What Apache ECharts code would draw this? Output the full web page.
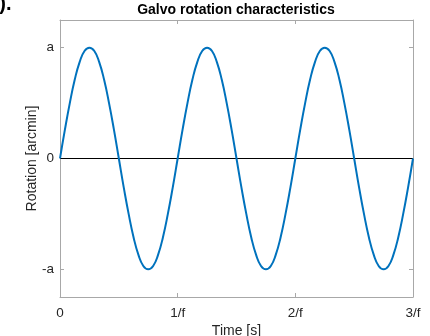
<!DOCTYPE html>
<html>
<head>
<meta charset="utf-8">
<script src="https://cdn.jsdelivr.net/npm/echarts@6/dist/echarts.min.js"></script>
<style>html,body{margin:0;padding:0;background:#fff;}#c{width:430px;height:336px;}</style>
</head>
<body>
<div id="c"></div>
<script>
var titleText = 'Galvo rotation characteristics';
var xName = 'Time [s]';
var yName = 'Rotation [arcmin]';
var xTickValues = [0, 1, 2, 3];
var xTickLabels = ['0', '1/f', '2/f', '3/f'];
var yTickValues = [-1, 0, 1];
var yTickLabels = ['-a', '0', 'a'];
var time = [0, 0.0417, 0.0833, 0.125, 0.1667, 0.2083, 0.25, 0.2917, 0.3333, 0.375, 0.4167, 0.4583,
            0.5, 0.5417, 0.5833, 0.625, 0.6667, 0.7083, 0.75, 0.7917, 0.8333, 0.875, 0.9167, 0.9583,
            1, 1.0417, 1.0833, 1.125, 1.1667, 1.2083, 1.25, 1.2917, 1.3333, 1.375, 1.4167, 1.4583,
            1.5, 1.5417, 1.5833, 1.625, 1.6667, 1.7083, 1.75, 1.7917, 1.8333, 1.875, 1.9167, 1.9583,
            2, 2.0417, 2.0833, 2.125, 2.1667, 2.2083, 2.25, 2.2917, 2.3333, 2.375, 2.4167, 2.4583,
            2.5, 2.5417, 2.5833, 2.625, 2.6667, 2.7083, 2.75, 2.7917, 2.8333, 2.875, 2.9167, 2.9583, 3];
var rotation = [0, 0.26, 0.5, 0.71, 0.87, 0.97, 1, 0.97, 0.87, 0.71, 0.5, 0.26,
                0, -0.26, -0.5, -0.71, -0.87, -0.97, -1, -0.97, -0.87, -0.71, -0.5, -0.26,
                0, 0.26, 0.5, 0.71, 0.87, 0.97, 1, 0.97, 0.87, 0.71, 0.5, 0.26,
                0, -0.26, -0.5, -0.71, -0.87, -0.97, -1, -0.97, -0.87, -0.71, -0.5, -0.26,
                0, 0.26, 0.5, 0.71, 0.87, 0.97, 1, 0.97, 0.87, 0.71, 0.5, 0.26,
                0, -0.26, -0.5, -0.71, -0.87, -0.97, -1, -0.97, -0.87, -0.71, -0.5, -0.26, 0];
var zeroLineX = [0, 3];
var zeroLineY = [0, 0];

var chart = echarts.init(document.getElementById('c'), null, {renderer: 'canvas'});
var font = 'Liberation Sans, Arial, Helvetica, sans-serif';
var boxColor = '#a8a8a8';
var textColor = '#262626';
function lab(values, labels) {
  return function (v) {
    for (var i = 0; i < values.length; i++) if (Math.abs(values[i] - v) < 1e-6) return labels[i];
    return '';
  };
}
function axisBase(min, max, ticks) {
  return {
    type: 'value', min: min, max: max,
    axisLine: {show: true, onZero: false, lineStyle: {color: boxColor, width: 1}},
    axisTick: {show: true, inside: true, length: 4, customValues: ticks, lineStyle: {color: boxColor}},
    splitLine: {show: false}
  };
}
var xMain = axisBase(0, 3, xTickValues);
xMain.position = 'bottom';
xMain.name = xName; xMain.nameLocation = 'middle'; xMain.nameGap = 27; xMain.nameMoveOverlap = false;
xMain.nameTextStyle = {fontFamily: font, fontSize: 14, color: textColor};
xMain.axisLabel = {show: true, customValues: xTickValues, formatter: lab(xTickValues, xTickLabels),
  margin: 9, fontFamily: font, fontSize: 13.5, color: textColor};
var xTop = axisBase(0, 3, xTickValues);
xTop.position = 'top'; xTop.axisLabel = {show: false};

var yMain = axisBase(-1.25, 1.25, yTickValues);
yMain.position = 'left';
yMain.name = yName; yMain.nameLocation = 'middle'; yMain.nameGap = 21; yMain.nameMoveOverlap = false;
yMain.nameTextStyle = {fontFamily: font, fontSize: 14, color: textColor};
yMain.axisLabel = {show: true, customValues: yTickValues, formatter: lab(yTickValues, yTickLabels),
  margin: 6, fontFamily: font, fontSize: 13.5, color: textColor};
var yRight = axisBase(-1.25, 1.25, yTickValues);
yRight.position = 'right'; yRight.axisLabel = {show: false};

var option = {
  animation: false,
  backgroundColor: '#fff',
  title: {
    text: titleText, left: 236, top: 0, textAlign: 'center', padding: [3, 0, 0, 0],
    textStyle: {fontFamily: font, fontSize: 14, fontWeight: 'bold', color: '#000'}
  },
  graphic: [{
    type: 'text', left: -13, top: -6,
    style: {text: 'b).', font: 'bold 20px ' + font, fill: '#000'}
  }],
  grid: {left: 60, right: 17, top: 20, bottom: 39, outerBoundsMode: 'none', containLabel: false},
  xAxis: [xMain, xTop],
  yAxis: [yMain, yRight],
  series: [
    {
      type: 'line', xAxisIndex: 0, yAxisIndex: 0,
      data: zeroLineX.map(function (x, i) { return [x, zeroLineY[i]]; }),
      symbol: 'none', lineStyle: {color: '#000', width: 1}, z: 2
    },
    {
      type: 'line', xAxisIndex: 0, yAxisIndex: 0,
      data: time.map(function (t, i) { return [t, rotation[i]]; }),
      symbol: 'none', smooth: true,
      lineStyle: {color: '#0072BD', width: 2}, z: 3
    }
  ]
};
chart.setOption(option);
</script>
</body>
</html>
